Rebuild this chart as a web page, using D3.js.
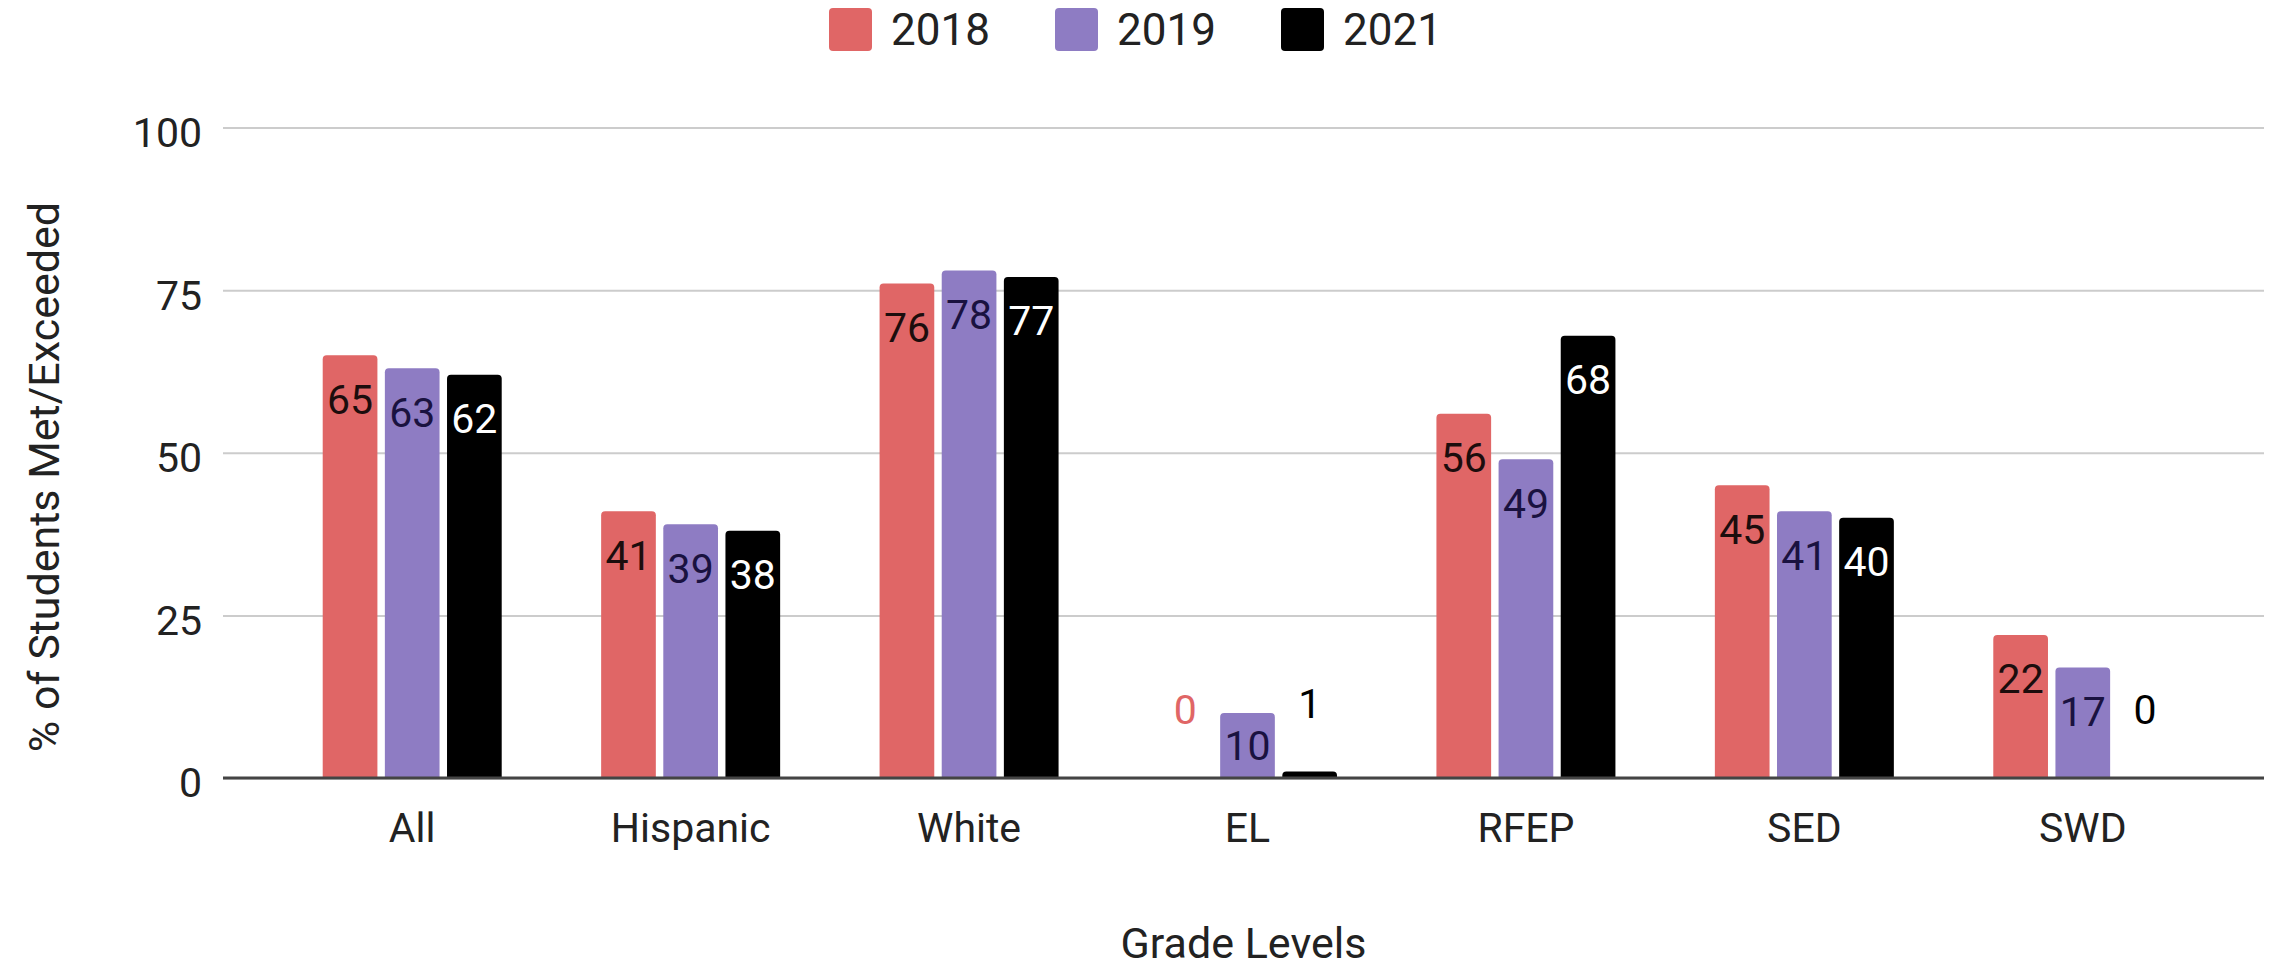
<!DOCTYPE html>
<html>
<head>
<meta charset="utf-8">
<script src="https://cdn.jsdelivr.net/npm/d3@7"></script>
<style>
    body { margin: 0; background: #fff; }
    svg text { font-family: Roboto, "Noto Sans", sans-serif; fill: #222; }
</style>
</head>
<body>
<svg id="chart"></svg>
<script>
const categories = ['All', 'Hispanic', 'White', 'EL', 'RFEP', 'SED', 'SWD'];
const years = ['2018', '2019', '2021'];
const values2018 = [65, 41, 76, 0, 56, 45, 22];
const values2019 = [63, 39, 78, 10, 49, 41, 17];
const values2021 = [62, 38, 77, 1, 68, 40, 0];
const yTicks = [0, 25, 50, 75, 100];
const yTitle = '% of Students Met/Exceeded';
const xTitle = 'Grade Levels';

const width = 2272;
const height = 967;
const plotLeft = 223, plotRight = 2264, plotTop = 127.5, plotBottom = 778;
const fontSize = 41;
const titleSize = 43;

const series = [values2018, values2019, values2021];

const svg = d3.select('#chart')
    .attr('width', width)
    .attr('height', height);

const color = d3.scaleOrdinal()
    .domain(years)
    .range(['#e06666', '#8e7cc3', '#000000']);

// text colour used when the value sits inside the bar
const innerColor = d3.scaleOrdinal()
    .domain(years)
    .range(['#1c0d0d', '#1a1240', '#ffffff']);

const x0 = d3.scaleBand()
    .domain(categories)
    .range([273, 2222]);

const x1 = d3.scaleBand()
    .domain(years)
    .range([-89.5, 89.5])
    .paddingInner(0.12);

const y = d3.scaleLinear()
    .domain([0, 100])
    .range([plotBottom, plotTop]);

// gridlines + y tick labels
const yAxis = svg.append('g')
    .attr('transform', `translate(${plotLeft},0)`)
    .call(d3.axisLeft(y)
        .tickValues(yTicks)
        .tickSize(-(plotRight - plotLeft))
        .tickPadding(21));

yAxis.select('.domain').remove();
yAxis.selectAll('.tick line')
    .attr('stroke', '#cccccc')
    .attr('stroke-width', 2);
yAxis.selectAll('.tick text')
    .attr('dy', '0.46em')
    .style('font-size', fontSize + 'px')
    .style('fill', '#222');

// bars with rounded tops
function barPath(x, yTop, w, h) {
    if (h <= 0) return '';
    const r = Math.min(4, h, w / 2);
    return `M${x},${yTop + h}V${yTop + r}Q${x},${yTop} ${x + r},${yTop}` +
        `H${x + w - r}Q${x + w},${yTop} ${x + w},${yTop + r}V${yTop + h}Z`;
}

const rows = categories.map((cat, i) => ({
    cat,
    items: years.map((yr, j) => ({ cat, year: yr, value: series[j][i] }))
}));

const groups = svg.append('g')
    .selectAll('g')
    .data(rows)
    .enter()
    .append('g')
    .attr('transform', d => `translate(${x0(d.cat) + x0.bandwidth() / 2},0)`);

groups.selectAll('path')
    .data(d => d.items)
    .enter()
    .append('path')
    .attr('d', d => barPath(x1(d.year), y(d.value), x1.bandwidth(), plotBottom - y(d.value)))
    .attr('fill', d => color(d.year));

// baseline
svg.append('line')
    .attr('x1', plotLeft)
    .attr('x2', plotRight)
    .attr('y1', y(0))
    .attr('y2', y(0))
    .attr('stroke', '#444')
    .attr('stroke-width', 3);

// value labels
function labelCenter(d) {
    const h = plotBottom - y(d.value);
    if (h >= 88) return y(d.value) + 44;
    if (h >= 45) return y(d.value) + h / 2;
    return y(d.value) - 68;
}

groups.selectAll('text')
    .data(d => d.items)
    .enter()
    .append('text')
    .attr('x', d => x1(d.year) + x1.bandwidth() / 2)
    .attr('y', d => labelCenter(d))
    .attr('dy', '0.35em')
    .attr('text-anchor', 'middle')
    .style('font-size', fontSize + 'px')
    .style('fill', d => (plotBottom - y(d.value) >= 45) ? innerColor(d.year) : color(d.year))
    .text(d => d.value);

// category labels
const xAxis = svg.append('g')
    .attr('transform', `translate(0,${plotBottom})`)
    .call(d3.axisBottom(x0).tickSize(0).tickPadding(35));

xAxis.select('.domain').remove();
xAxis.selectAll('.tick text')
    .style('font-size', fontSize + 'px')
    .style('fill', '#222');

// axis titles
svg.append('text')
    .attr('x', (plotLeft + plotRight) / 2)
    .attr('y', 958)
    .attr('text-anchor', 'middle')
    .style('font-size', titleSize + 'px')
    .text(xTitle);

svg.append('text')
    .attr('transform', `translate(59,477) rotate(-90)`)
    .attr('text-anchor', 'middle')
    .style('font-size', titleSize + 'px')
    .text(yTitle);

// legend
const legend = svg.append('g')
    .selectAll('g')
    .data(years)
    .enter()
    .append('g')
    .attr('transform', (d, i) => `translate(${829 + i * 226},8)`);

legend.append('rect')
    .attr('width', 43)
    .attr('height', 43)
    .attr('rx', 4)
    .attr('fill', d => color(d));

legend.append('text')
    .attr('x', 62)
    .attr('y', 21.5)
    .attr('dy', '0.35em')
    .style('font-size', '44px')
    .text(d => d);
</script>
</body>
</html>
